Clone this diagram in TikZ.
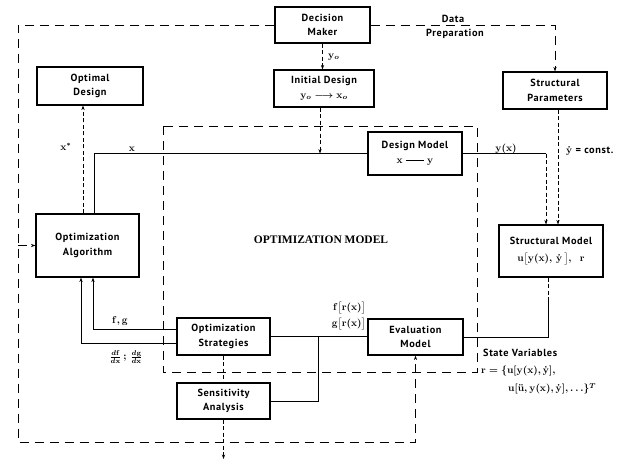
\documentclass[tikz,border=0pt]{standalone}
\usepackage{amsmath}
\usepackage[no-math]{fontspec}
\setmainfont{PT Sans}[LetterSpace=6]
\newfontfamily\capsfont{Liberation Serif}
\usetikzlibrary{arrows.meta}

\begin{document}
\begin{tikzpicture}[x=1pt,y=-1pt,
  box/.style={draw, line width=1.1pt, inner sep=1pt, align=center,
    font=\bfseries\boldmath\fontsize{10.3}{14.5}\selectfont},
  wire/.style={line width=1pt},
  bigdash/.style={line width=0.9pt, dash pattern=on 9pt off 6pt},
  smalldash/.style={line width=0.6pt, dash pattern=on 4pt off 2.5pt},
  tip/.style={-{Stealth[length=4.5pt,width=3.2pt]}},
  lbl/.style={inner sep=0pt, font=\bfseries\boldmath\fontsize{10.3}{12}\selectfont}]
\useasboundingbox (0,0) rectangle (624,461);

% blocks
\node[box, minimum width=95pt, minimum height=36pt] (dm) at (322.5,25) {Decision\\Maker};
\node[box, minimum width=100pt, minimum height=37pt] (init) at (324,88.5) {Initial Design\\$\mathbf{y}_o \longrightarrow \mathbf{x}_o$};
\node[box, minimum width=104pt, minimum height=37pt] (sp) at (555,90.5) {Structural\\Parameters};
\node[box, minimum width=106pt, minimum height=38pt] (od) at (90,86) {Optimal\\Design};
\node[box, minimum width=103pt, minimum height=63pt] (oa) at (87.5,245.5) {Optimization\\Algorithm};
\node[box, minimum width=94pt, minimum height=43pt] (dmod) at (415,153.5) {Design Model\\$\mathbf{x}$ \rule[3pt]{18pt}{0.8pt} $\mathbf{y}$};
\node[box, minimum width=104pt, minimum height=52pt] (sm) at (551,251) {Structural Model\\[3pt]$\mathbf{u}\big[\mathbf{y}(\mathbf{x}),\,\dot{\mathbf{y}}\,\big],\ \ \mathbf{r}$};
\node[box, minimum width=93pt, minimum height=37pt] (os) at (223.5,336.5) {Optimization\\Strategies};
\node[box, minimum width=93pt, minimum height=36pt] (sa) at (223.5,401) {Sensitivity\\Analysis};
\node[box, minimum width=95pt, minimum height=36pt] (em) at (415.5,337) {Evaluation\\Model};

% boundary of the optimization model
\draw[bigdash] (163,126) rectangle (477,372);
\node[inner sep=0pt, font=\capsfont\bfseries\fontsize{11.5}{13}\selectfont] (om) at (321,240) {OPTIMIZATION MODEL};

% helper points
\coordinate (bl) at (18,442);
\coordinate (out) at (223.5,459);
\coordinate (jn) at (318,336.5);
\coordinate (yx) at ([xshift=-5pt]sm.north |- dmod.east);
\coordinate (smd) at ([xshift=-3pt,yshift=-22pt]sm.south);

% decision maker links
\draw[bigdash,tip] (dm.west) -| (bl) -| (em.south);
\draw[bigdash,tip] (bl |- oa.west) -- (oa.west);
\draw[bigdash,tip] (dm.east) -| (sp.north);
\draw[smalldash,tip] (dm.south) -- (dm.south |- init.north);
\draw[smalldash,tip] ([xshift=-4pt]init.south) -- ([xshift=-4pt]init.south |- dmod.west);

% design variables
\draw[wire] ([xshift=7pt]oa.north) |- (dmod.west);
\draw[smalldash,tip] ([xshift=-4.5pt]oa.north) -- ([xshift=-4.5pt]oa.north |- od.south);
\draw[wire] (dmod.east) -- (yx);
\draw[smalldash,tip] (yx) -- (yx |- sm.north);
\draw[smalldash,tip] ([xshift=3pt]sp.south) -- ([xshift=3pt]sp.south |- sm.north);

% analysis chain
\draw[smalldash] ([xshift=-3pt]sm.south) -- (smd);
\draw[wire] (smd) |- (em.east);
\draw[wire] (os.east) -- (os.east -| em.west);
\draw[wire] (jn) |- (sa.east);
\draw[wire,tip] ([yshift=7.5pt]os.west) -| ([xshift=5.5pt]oa.south);
\draw[wire,tip] ([yshift=-6.5pt]os.west) -| ([xshift=-6.5pt]oa.south);
\draw[smalldash] (os.south) -- (sa.north);
\draw[smalldash,tip] (sa.south) -- (out);

% labels
\node[lbl] (lData) at (453,19) {Data};
\node[lbl] (lPrep) at (455,34) {Preparation};
\node[lbl, anchor=west] (lyo) at (328,57) {$\mathbf{y}_o$};
\node[lbl] (lxs) at (66,147) {$\mathbf{x}^*$};
\node[lbl] (lx) at (132,149) {$\mathbf{x}$};
\node[lbl] (lyx) at (506,149) {$\mathbf{y}(\mathbf{x})$};
\node[lbl, anchor=west] (lyc) at (566,151) {$\dot{\mathbf{y}}$ = const.};
\node[lbl] (lfg) at (120,321) {$\mathbf{f},\mathbf{g}$};
\node[lbl] (ldf) at (126,357) {$\tfrac{d\mathbf{f}}{d\mathbf{x}}\,;\,\tfrac{d\mathbf{g}}{d\mathbf{x}}$};
\node[lbl, anchor=east] (lf) at (366,308) {$\mathbf{f}\big[\mathbf{r}(\mathbf{x})\big]$};
\node[lbl, anchor=east] (lg) at (366,324) {$\mathbf{g}\big[\mathbf{r}(\mathbf{x})\big]$};
\node[lbl, anchor=west] (lsv) at (483,353) {State Variables};
\node[lbl, anchor=west] (lr1) at (481,371) {$\mathbf{r}=\{\mathbf{u}[\mathbf{y}(\mathbf{x}),\dot{\mathbf{y}}],$};
\node[lbl, anchor=west] (lr2) at (508,389) {$\mathbf{u}[\ddot{\mathbf{u}},\mathbf{y}(\mathbf{x}),\dot{\mathbf{y}}],\ldots\}^{T}$};
\end{tikzpicture}
\end{document}
